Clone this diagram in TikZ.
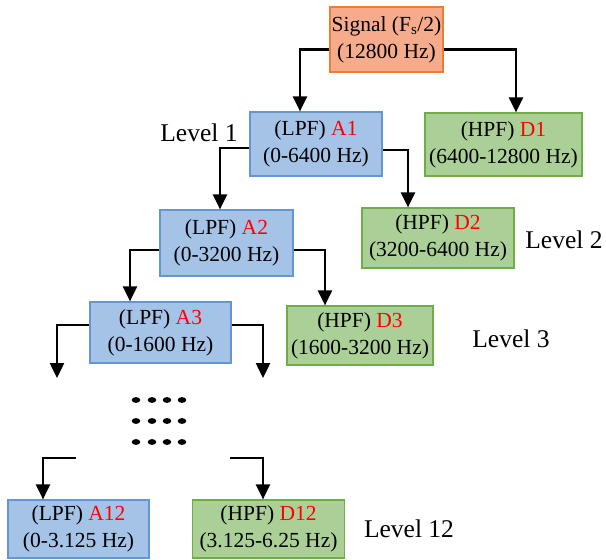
\documentclass[tikz,border=0pt]{standalone}
\usepackage{fontspec}
\setmainfont{Liberation Serif}
\usetikzlibrary{arrows.meta}
\definecolor{bfill}{RGB}{165,194,231}
\definecolor{bdraw}{RGB}{100,150,210}
\definecolor{gfill}{RGB}{171,208,151}
\definecolor{gdraw}{RGB}{112,173,71}
\definecolor{ofill}{RGB}{246,172,140}
\definecolor{odraw}{RGB}{237,125,49}
\tikzset{
  box/.style={draw, line width=1.2pt, align=center, inner sep=0pt, font=\fontsize{21.5}{27}\selectfont},
  lpf/.style={box, fill=bfill, draw=bdraw},
  hpf/.style={box, fill=gfill, draw=gdraw},
  sig/.style={box, fill=ofill, draw=odraw},
  lvl/.style={font=\fontsize{25.5}{28}\selectfont},
  arr/.style={line width=2.5pt, -{Triangle[length=15pt,width=14pt]}},
  dot/.style={fill=black, draw=none}
}
\begin{document}
\begin{tikzpicture}[x=1pt,y=-1pt]
\useasboundingbox (0,0) rectangle (606,560);
\node[sig, minimum width=113, minimum height=65] (S) at (386.5,39.5) {Signal (F\textsubscript{s}/2)\\(12800 Hz)};
\node[lpf, minimum width=132, minimum height=64] (A1) at (316,144) {(LPF) \textcolor{red}{A1}\\(0-6400 Hz)};
\node[hpf, minimum width=157, minimum height=63] (D1) at (503.5,144.5) {(HPF) \textcolor{red}{D1}\\(6400-12800 Hz)};
\node[lpf, minimum width=133, minimum height=66] (A2) at (226.5,243) {(LPF) \textcolor{red}{A2}\\(0-3200 Hz)};
\node[hpf, minimum width=152, minimum height=60] (D2) at (438,238) {(HPF) \textcolor{red}{D2}\\(3200-6400 Hz)};
\node[lpf, minimum width=141, minimum height=61] (A3) at (160.5,332.5) {(LPF) \textcolor{red}{A3}\\(0-1600 Hz)};
\node[hpf, minimum width=146, minimum height=59] (D3) at (360,335.5) {(HPF) \textcolor{red}{D3}\\(1600-3200 Hz)};
\node[lpf, minimum width=141, minimum height=58] (A12) at (78.5,529) {(LPF) \textcolor{red}{A12}\\(0-3.125 Hz)};
\node[hpf, minimum width=152, minimum height=58] (D12) at (268.5,529) {(HPF) \textcolor{red}{D12}\\(3.125-6.25 Hz)};
\node[lvl] (L1) at (199,133) {Level 1};
\node[lvl] (L2) at (564,240) {Level 2};
\node[lvl] (L3) at (511,339) {Level 3};
\node[lvl] (L12) at (409,529) {Level 12};
\coordinate (c1) at (57,378);
\coordinate (c2) at (263,378);
\coordinate (c3) at (76,458);
\coordinate (c4) at (230,458);
\draw[arr] ([yshift=-10]S.west) -| ([xshift=-16]A1.north);
\draw[arr] ([yshift=-10]S.east) -| ([xshift=12.5]D1.north);
\draw[arr] ([yshift=-4]A1.west) -| ([xshift=-6.5]A2.north);
\draw[arr] ([yshift=-6]A1.east) -| ([xshift=-30]D2.north);
\draw[arr] ([yshift=-7]A2.west) -| ([xshift=-30.5]A3.north);
\draw[arr] ([yshift=-7]A2.east) -| ([xshift=-35]D3.north);
\draw[arr] ([yshift=7.5]A3.west) -| (c1);
\draw[arr] ([yshift=7.5]A3.east) -| (c2);
\draw[arr] (c3) -| ([xshift=-35.5]A12.north);
\draw[arr] (c4) -| ([xshift=-5.5]D12.north);
\foreach \yy in {400,421,442}{
  \foreach \xx in {136,152,167,182}{
    \fill[dot] (\xx,\yy) ellipse (4.3pt and 2.9pt);
  }
}
\end{tikzpicture}
\end{document}
